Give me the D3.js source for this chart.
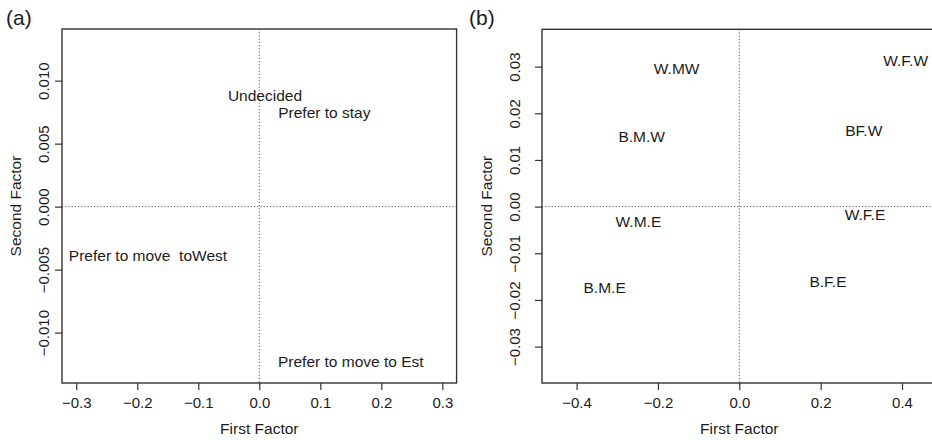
<!DOCTYPE html>
<html>
  <head>
    <meta charset="utf-8">
    <title>Correspondence analysis factor maps</title>
    <style>
      body { margin: 0; background: #fff; }
      text { font-family: "Liberation Sans", Arial, sans-serif; fill: #1c1c1c; }
      .tick text { font-size: 15px; }
      .domain { display: none; }
      .tick line { stroke: #333; stroke-width: 1.2; }
    </style>
    <script src="https://cdn.jsdelivr.net/npm/d3@7"></script>
  </head>
  <body>
    <script>
      // panel (a): migration preference categories
      const aLabels = ['Undecided', 'Prefer to stay', 'Prefer to move  toWest', 'Prefer to move to Est'];
      const aFirst  = [0.0093, 0.1066, -0.1825, 0.150];
      const aSecond = [0.0088, 0.0075, -0.0039, -0.0123];
      const aXTicks = [-0.3, -0.2, -0.1, 0.0, 0.1, 0.2, 0.3];
      const aYTicks = [-0.010, -0.005, 0.000, 0.005, 0.010];

      // panel (b): groups
      const bLabels = ['W.MW', 'W.F.W', 'B.M.W', 'BF.W', 'W.M.E', 'W.F.E', 'B.M.E', 'B.F.E'];
      const bFirst  = [-0.154, 0.409, -0.240, 0.306, -0.248, 0.309, -0.331, 0.218];
      const bSecond = [0.0295, 0.0312, 0.0150, 0.0162, -0.0032, -0.0016, -0.0174, -0.0161];
      const bXTicks = [-0.4, -0.2, 0.0, 0.2, 0.4];
      const bYTicks = [-0.03, -0.02, -0.01, 0.00, 0.01, 0.02, 0.03];

      const width = 932, height = 440;
      const minus = s => s.replace('-', '\u2212');

      const svg = d3.select('body').append('svg')
        .attr('width', width)
        .attr('height', height);

      function panel(opt) {
        const x = d3.scaleLinear().domain(opt.xDomain).range([opt.left, opt.right]);
        const y = d3.scaleLinear().domain(opt.yDomain).range([opt.bottom, opt.top]);
        const g = svg.append('g');

        // reference lines at zero
        g.append('line')
          .attr('x1', x(0)).attr('x2', x(0))
          .attr('y1', opt.top).attr('y2', opt.bottom)
          .attr('stroke', '#555').attr('stroke-width', 1).attr('stroke-dasharray', '1.2,2');
        g.append('line')
          .attr('x1', opt.left).attr('x2', opt.right)
          .attr('y1', y(0)).attr('y2', y(0))
          .attr('stroke', '#555').attr('stroke-width', 1).attr('stroke-dasharray', '1.2,2');

        // x axis
        const xa = g.append('g')
          .attr('transform', `translate(0,${opt.bottom})`)
          .call(d3.axisBottom(x).tickValues(opt.xTicks).tickSize(7)
            .tickFormat(d => minus(d3.format('.1f')(d))));
        xa.selectAll('.tick text').attr('y', 20).attr('dy', '0.35em');

        // y axis, labels parallel to axis like R
        const ya = g.append('g')
          .attr('transform', `translate(${opt.left},0)`)
          .call(d3.axisLeft(y).tickValues(opt.yTicks).tickSize(7)
            .tickFormat(d => minus(d3.format(opt.yFmt)(d))));
        ya.selectAll('.tick text')
          .attr('x', 0).attr('y', 0).attr('dy', '0.35em')
          .attr('text-anchor', 'middle')
          .attr('transform', `translate(${-opt.yLabOff},0) rotate(-90)`);

        // box
        g.append('rect')
          .attr('x', opt.left).attr('y', opt.top)
          .attr('width', opt.right - opt.left).attr('height', opt.bottom - opt.top)
          .attr('fill', 'none').attr('stroke', '#333').attr('stroke-width', 1.4);

        // point labels
        g.selectAll('text.lab')
          .data(opt.labels)
          .join('text')
          .attr('class', 'lab')
          .attr('x', (d, i) => x(opt.xs[i]))
          .attr('y', (d, i) => y(opt.ys[i]))
          .attr('dy', '0.35em')
          .attr('text-anchor', 'middle')
          .style('font-size', '15.5px')
          .style('white-space', 'pre')
          .text(d => d);

        // titles
        g.append('text')
          .attr('x', (opt.left + Math.min(opt.right, 2 * x(0) - opt.left)) / 2)
          .attr('y', 429).attr('dy', '0.35em')
          .attr('text-anchor', 'middle')
          .style('font-size', '15.5px')
          .text('First Factor');
        g.append('text')
          .attr('transform', `translate(${opt.left - opt.yTitleOff},${(opt.top + opt.bottom) / 2}) rotate(-90)`)
          .attr('dy', '0.35em')
          .attr('text-anchor', 'middle')
          .style('font-size', '15.5px')
          .text('Second Factor');
        g.append('text')
          .attr('x', opt.tagX).attr('y', 25)
          .style('font-size', '21px')
          .text(opt.tag);
      }

      panel({
        tag: '(a)', tagX: 6,
        left: 62, right: 456.6, top: 29, bottom: 383,
        xDomain: [-0.3234, 0.3234], yDomain: [-0.0140, 0.0141],
        xTicks: aXTicks, yTicks: aYTicks, yFmt: '.3f',
        yLabOff: 18, yTitleOff: 46.5,
        labels: aLabels, xs: aFirst, ys: aSecond
      });

      panel({
        tag: '(b)', tagX: 469,
        left: 542, right: 936.6, top: 29.3, bottom: 383,
        xDomain: [-0.485, 0.485], yDomain: [-0.0378, 0.038],
        xTicks: bXTicks, yTicks: bYTicks, yFmt: '.2f',
        yLabOff: 27, yTitleOff: 55,
        labels: bLabels, xs: bFirst, ys: bSecond
      });
    </script>
  </body>
</html>
